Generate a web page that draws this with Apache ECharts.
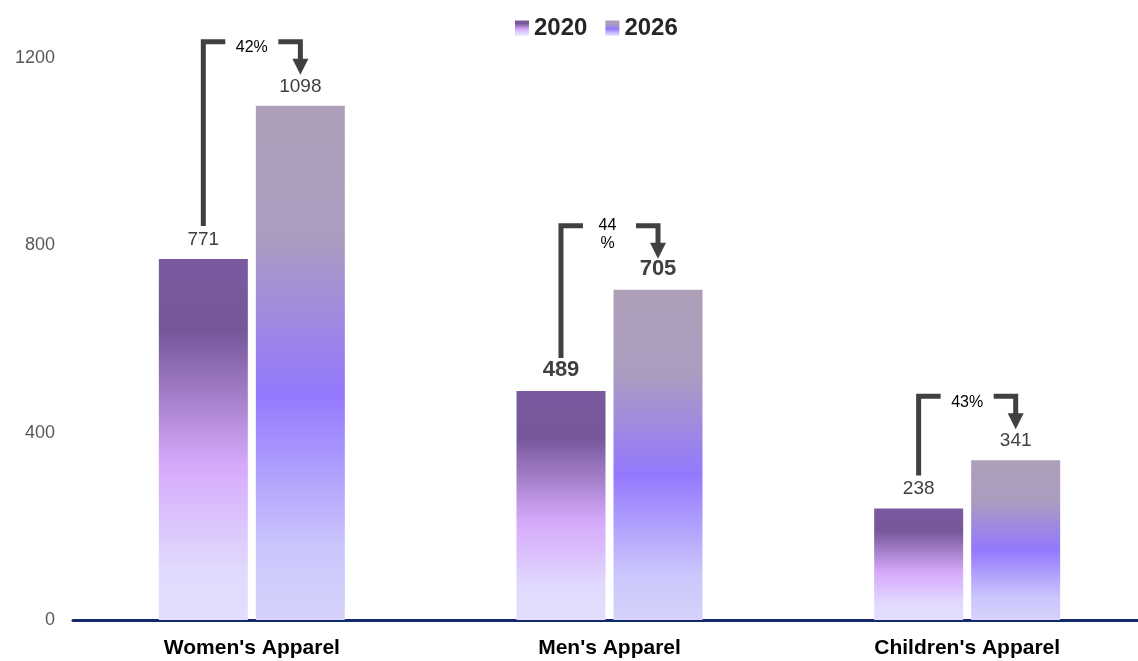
<!DOCTYPE html>
<html><head><meta charset="utf-8">
<script src="https://cdn.jsdelivr.net/npm/echarts/dist/echarts.min.js"></script>
<style>html,body{margin:0;padding:0;background:#fff}#c{width:1138px;height:661px}</style>
</head><body><div id="c"></div>
<script>
const categories = ["Women's Apparel", "Men's Apparel", "Children's Apparel"];
const seriesNames = ['2020', '2026'];
const values2020 = [771, 489, 238];
const values2026 = [1098, 705, 341];
const growthLabels = ['42%', '44%', '43%'];
const yTicks = [0, 400, 800, 1200];

const FONT = '"Liberation Sans", Arial, sans-serif';
const boldIndex = 1;

const grad2020 = new echarts.graphic.LinearGradient(0, 0, 0, 1, [
  {offset: 0, color: '#7a5a9e'}, {offset: 0.2, color: '#75579a'},
  {offset: 0.57, color: '#d6a9fb'}, {offset: 0.86, color: '#e1dafd'}, {offset: 1, color: '#e3defe'}
]);
const grad2026 = new echarts.graphic.LinearGradient(0, 0, 0, 1, [
  {offset: 0, color: '#ad9fb8'}, {offset: 0.25, color: '#ab9dbf'},
  {offset: 0.56, color: '#9478fe'}, {offset: 0.86, color: '#cbc6fc'}, {offset: 1, color: '#d5d2fb'}
]);

function barData(vals) {
  return vals.map((v, i) => i === boldIndex
    ? {value: v, label: {fontWeight: 'bold', fontSize: 22}}
    : v);
}

const chart = echarts.init(document.getElementById('c'), null, {renderer: 'canvas'});
chart.setOption({
  animation: false,
  textStyle: {fontFamily: FONT},
  legend: {
    data: seriesNames,
    top: 11, left: 510,
    icon: 'rect',
    itemWidth: 14, itemHeight: 15, itemGap: 18,
    textStyle: {fontSize: 24, fontWeight: 'bold', color: '#262626', fontFamily: FONT}
  },
  grid: {left: 73, width: 1073, top: 58, bottom: 41, containLabel: false, outerBoundsMode: 'none'},
  xAxis: {
    type: 'category', data: categories,
    axisLine: {lineStyle: {color: '#13296b', width: 3}},
    axisTick: {show: false},
    axisLabel: {fontSize: 21, fontWeight: 'bold', color: '#000', margin: 18, fontFamily: FONT}
  },
  yAxis: {
    type: 'value', min: yTicks[0], max: yTicks[yTicks.length - 1], interval: yTicks[1] - yTicks[0],
    splitLine: {show: false}, axisLine: {show: false}, axisTick: {show: false},
    axisLabel: {fontSize: 18, color: '#595959', margin: 18, fontFamily: FONT,
      formatter: v => String(v)}
  },
  series: [
    {
      name: seriesNames[0], type: 'bar', data: barData(values2020),
      barWidth: 89, barGap: '9%',
      itemStyle: {color: grad2020},
      label: {show: true, position: 'top', distance: 10, fontSize: 19, color: '#404040', fontFamily: FONT}
    },
    {
      name: seriesNames[1], type: 'bar', data: barData(values2026),
      barWidth: 89, barGap: '9%',
      itemStyle: {color: grad2026},
      label: {show: true, position: 'top', distance: 10, fontSize: 19, color: '#404040', fontFamily: FONT}
    },
    {
      type: 'custom', z: 10, silent: true,
      encode: {x: 0, y: [1, 2]},
      data: categories.map((c, i) => [i, values2020[i], values2026[i]]),
      renderItem: function (params, api) {
        const idx = api.value(0);
        const v1 = api.value(1), v2 = api.value(2);
        const band = api.size([1, 0])[0];
        const cx = api.coord([idx, 0])[0];
        const off = band * (48.5 / 357.5);
        const x1 = cx - off, x2 = cx + off;
        const y1 = api.coord([idx, v1])[1];
        const y2 = api.coord([idx, v2])[1];
        const topY = Math.min(y1, y2) - 64;
        const tipY = y2 - 31;
        const stroke = '#404040';
        const lw = 5;
        const ls = {stroke: stroke, lineWidth: lw, fill: null, lineJoin: 'miter', lineCap: 'butt'};
        const textStyle = {
          text: growthLabels[idx],
          x: cx, y: topY - 3,
          fill: '#000', fontSize: 16, fontFamily: FONT,
          align: 'center', verticalAlign: 'top', lineHeight: 18
        };
        if (idx === boldIndex) { textStyle.width = 22; textStyle.overflow = 'breakAll'; textStyle.y = topY - 9; textStyle.x = cx - 2; }
        return {
          type: 'group',
          children: [
            {type: 'polyline', shape: {points: [[x1, y1 - 33], [x1, topY], [x1 + 22, topY]]}, style: ls},
            {type: 'polyline', shape: {points: [[x2 - 22, topY], [x2, topY], [x2, tipY - 14]]}, style: ls},
            {type: 'polygon', shape: {points: [[x2 - 8, tipY - 16], [x2 + 8, tipY - 16], [x2, tipY]]}, style: {fill: stroke}},
            {type: 'text', style: textStyle}
          ]
        };
      }
    }
  ]
});
</script>
</body></html>
